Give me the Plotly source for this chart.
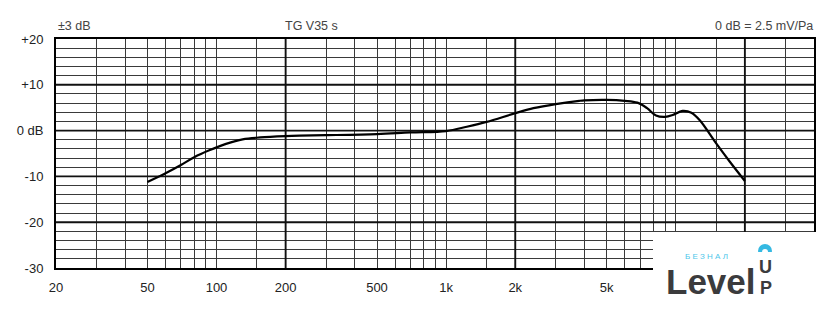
import math
import plotly.graph_objects as go

# ---- data ----
freq_hz = [50, 60, 70, 80, 93, 110, 130, 155, 200, 230, 300, 500, 700, 1000,
           1230, 1500, 2000, 2400, 3000, 3800, 4000, 5000, 6000, 6800, 7500,
           8200, 9000, 9700, 10700, 11700, 12700, 15000, 17200, 20000]
level_db = [-11.2, -9.3, -7.5, -5.8, -4.3, -2.9, -1.9, -1.5, -1.2, -1.1, -1.0,
            -0.75, -0.4, -0.1, 0.85, 1.9, 3.8, 4.9, 5.8, 6.5, 6.6, 6.7, 6.5,
            6.1, 4.9, 3.3, 3.0, 3.4, 4.3, 3.9, 2.3, -2.8, -6.8, -11.0]

x_grid = [20, 30, 40, 50, 60, 70, 80, 90, 100, 150, 200, 300, 400, 500, 600,
          700, 800, 900, 1000, 1500, 2000, 3000, 4000, 5000, 6000, 7000, 8000,
          9000, 10000, 15000, 20000, 30000]
x_labels = {20: "20", 50: "50", 100: "100", 200: "200", 500: "500",
            1000: "1k", 2000: "2k", 5000: "5k"}
x_major = [200, 2000, 20000]
y_grid = list(range(-30, 21, 2))
y_labels = {20: "+20", 10: "+10", 0: "0 dB", -10: "-10", -20: "-20", -30: "-30"}
y_major = [-20, -10, 0, 10]
x_min, x_max = 20, 40000
y_min, y_max = -30, 20

title_left = "±3 dB"
title_mid = "TG V35 s"
title_right = "0 dB = 2.5 mV/Pa"

# ---- figure ----
fig = go.Figure()

# major grid lines (thicker)
vx, vy = [], []
for v in x_major:
    vx += [v, v, None]
    vy += [y_min, y_max, None]
for v in y_major:
    vx += [x_min, x_max, None]
    vy += [v, v, None]
fig.add_trace(go.Scatter(x=vx, y=vy, mode="lines",
                         line=dict(color="#111111", width=1.9),
                         hoverinfo="skip", showlegend=False))

fig.add_trace(go.Scatter(x=freq_hz, y=level_db, mode="lines",
                         line=dict(color="#000000", width=2.2, shape="spline",
                                   smoothing=1.0),
                         showlegend=False))

tick_font = dict(family="Liberation Sans, Arial, sans-serif", size=13, color="#222222")

fig.update_xaxes(type="log", range=[math.log10(x_min), math.log10(x_max)],
                 tickmode="array", tickvals=x_grid,
                 ticktext=[x_labels.get(v, "") for v in x_grid],
                 showgrid=True, gridcolor="#3a3a3a", gridwidth=1.2,
                 showline=True, mirror=True, linecolor="#000000", linewidth=2,
                 ticks="", ticklabelstandoff=6, tickfont=tick_font,
                 zeroline=False, fixedrange=True)
fig.update_yaxes(range=[y_min, y_max], tickmode="array", tickvals=y_grid,
                 ticktext=[y_labels.get(v, "") for v in y_grid],
                 showgrid=True, gridcolor="#3a3a3a", gridwidth=1.2,
                 showline=True, mirror=True, linecolor="#000000", linewidth=2,
                 ticks="", ticklabelstandoff=8, tickfont=tick_font,
                 zeroline=False, fixedrange=True)

L, R, T, B = 56, 26, 39, 41
W, H = 840, 309
pw, ph = W - L - R, H - T - B


def px(x):
    return (x - L) / pw


def py(y):
    return (H - B - y) / ph


top_font = dict(family="Liberation Sans, Arial, sans-serif", size=12.5, color="#444444")
fig.add_annotation(x=px(56), y=py(26), xref="paper", yref="paper", text=title_left,
                   showarrow=False, xanchor="left", yanchor="middle", font=top_font)
fig.add_annotation(x=px(311), y=py(26), xref="paper", yref="paper", text=title_mid,
                   showarrow=False, xanchor="center", yanchor="middle", font=top_font)
fig.add_annotation(x=px(815), y=py(26), xref="paper", yref="paper", text=title_right,
                   showarrow=False, xanchor="right", yanchor="middle", font=top_font)

# ---- logo overlay (white box with "Level UP") ----
fig.add_shape(type="rect", xref="paper", yref="paper", x0=px(653), x1=px(845),
              y0=py(232), y1=py(315), fillcolor="white", line=dict(width=0),
              layer="above")
fig.add_shape(type="circle", xref="paper", yref="paper", x0=px(758), x1=px(772),
              y0=py(244), y1=py(258), fillcolor="#35b9e2", line=dict(width=0),
              layer="above")
fig.add_shape(type="circle", xref="paper", yref="paper", x0=px(762), x1=px(768),
              y0=py(249), y1=py(255), fillcolor="white", line=dict(width=0),
              layer="above")
fig.add_shape(type="rect", xref="paper", yref="paper", x0=px(756), x1=px(774),
              y0=py(252), y1=py(259), fillcolor="white", line=dict(width=0),
              layer="above")
logo_font = "Liberation Sans, Arial, sans-serif"
fig.add_annotation(x=px(665), y=py(281), xref="paper", yref="paper",
                   text="<b>Level</b>", borderpad=0,
                   showarrow=False, xanchor="left", yanchor="middle",
                   font=dict(family=logo_font, size=35, color="#3b3b3d"))
fig.add_annotation(x=px(706), y=py(256), xref="paper", yref="paper",
                   text="Б Е З Н А Л", showarrow=False, xanchor="center",
                   yanchor="middle", borderpad=0,
                   font=dict(family=logo_font, size=8, color="#4cc6ea"))
fig.add_annotation(x=px(765.5), y=py(267), xref="paper", yref="paper",
                   text="<b>U</b>", showarrow=False, xanchor="center", yanchor="middle",
                   borderpad=0,
                   font=dict(family=logo_font, size=18, color="#3b3b3d"))
fig.add_annotation(x=px(765.5), y=py(288), xref="paper", yref="paper",
                   text="<b>P</b>", showarrow=False, xanchor="center", yanchor="middle",
                   borderpad=0,
                   font=dict(family=logo_font, size=18, color="#3b3b3d"))

fig.update_layout(width=W, height=H, margin=dict(l=L, r=R, t=T, b=B),
                  paper_bgcolor="white", plot_bgcolor="white", showlegend=False)

fig.write_html("out.html")
